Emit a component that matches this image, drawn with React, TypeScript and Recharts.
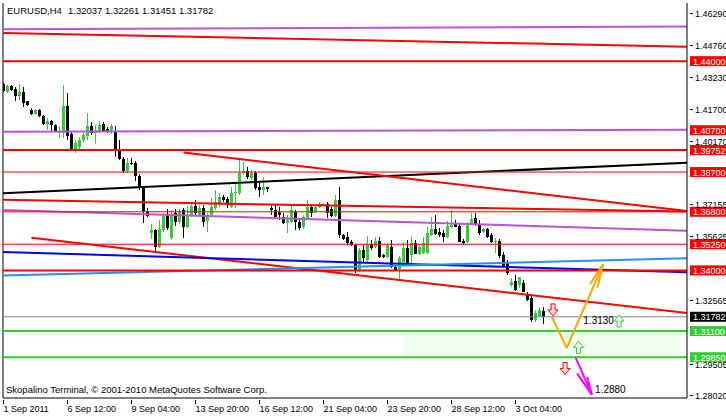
import React from 'react';
import {
  ComposedChart,
  Bar,
  XAxis,
  YAxis,
  ReferenceLine,
  ReferenceArea,
  ReferenceDot,
} from 'recharts';

// ---- candle data (EURUSD H4) ----
const opens = [
  1.4291, 1.4253, 1.4280, 1.4269, 1.4232, 1.4253, 1.4208, 1.4165, 1.4148, 1.4165,
  1.4137, 1.4100, 1.4116, 1.4097, 1.4057, 1.4057, 1.4186, 1.4052, 1.3980, 1.3990,
  1.4023, 1.4043, 1.4090, 1.4057, 1.4066, 1.4100, 1.4076, 1.4071, 1.4066, 1.3976,
  1.3933, 1.3876, 1.3914, 1.3914, 1.3852, 1.3794, 1.3684, 1.3580, 1.3593, 1.3513,
  1.3593, 1.3665, 1.3555, 1.3674, 1.3633, 1.3689, 1.3609, 1.3665, 1.3708, 1.3665,
  1.3697, 1.3636, 1.3665, 1.3698, 1.3713, 1.3752, 1.3741, 1.3705, 1.3769, 1.3769,
  1.3864, 1.3877, 1.3840, 1.3864, 1.3797, 1.3784, 1.3799, 1.3698, 1.3689, 1.3679,
  1.3657, 1.3628, 1.3633, 1.3681, 1.3633, 1.3606, 1.3649, 1.3705, 1.3681, 1.3705,
  1.3713, 1.3718, 1.3692, 1.3660, 1.3737, 1.3569, 1.3558, 1.3537, 1.3522, 1.3402,
  1.3498, 1.3450, 1.3526, 1.3513, 1.3542, 1.3474, 1.3466, 1.3513, 1.3416, 1.3405,
  1.3426, 1.3506, 1.3474, 1.3533, 1.3480, 1.3485, 1.3485, 1.3569, 1.3597, 1.3585,
  1.3577, 1.3558, 1.3606, 1.3622, 1.3612, 1.3542, 1.3537, 1.3622, 1.3649, 1.3617,
  1.3585, 1.3597, 1.3569, 1.3536, 1.3542, 1.3474, 1.3442, 1.3330, 1.3349, 1.3330,
  1.3338, 1.3283, 1.3267, 1.3163, 1.3182, 1.32037,
];
const highs = [
  1.4296, 1.4286, 1.4288, 1.4277, 1.4291, 1.4275, 1.4211, 1.4176, 1.4173, 1.4172,
  1.4143, 1.4129, 1.4119, 1.4100, 1.4090, 1.4288, 1.4248, 1.4062, 1.4023, 1.4038,
  1.4057, 1.4152, 1.4109, 1.4095, 1.4114, 1.4109, 1.4086, 1.4100, 1.4090, 1.4023,
  1.3942, 1.3938, 1.3938, 1.3923, 1.3861, 1.3804, 1.3698, 1.3622, 1.3598, 1.3641,
  1.3674, 1.3694, 1.3689, 1.3694, 1.3694, 1.3698, 1.3708, 1.3722, 1.3737, 1.3713,
  1.3713, 1.3674, 1.3746, 1.3784, 1.3770, 1.3761, 1.3751, 1.3799, 1.3824, 1.3931,
  1.3916, 1.3896, 1.3880, 1.3877, 1.3824, 1.3847, 1.3800, 1.3708, 1.3713, 1.3705,
  1.3676, 1.3665, 1.3718, 1.3689, 1.3649, 1.3665, 1.3737, 1.3718, 1.3713, 1.3727,
  1.3722, 1.3727, 1.3705, 1.3761, 1.3800, 1.3574, 1.3585, 1.3545, 1.3526, 1.3506,
  1.3522, 1.3565, 1.3545, 1.3561, 1.3558, 1.3479, 1.3531, 1.3545, 1.3425, 1.3469,
  1.3537, 1.3545, 1.3565, 1.3545, 1.3528, 1.3561, 1.3606, 1.3657, 1.3665, 1.3601,
  1.3593, 1.3638, 1.3689, 1.3641, 1.3622, 1.3549, 1.3633, 1.3673, 1.3673, 1.3641,
  1.3603, 1.3603, 1.3577, 1.3554, 1.3549, 1.3490, 1.3450, 1.3362, 1.3378, 1.3370,
  1.3354, 1.3298, 1.3283, 1.3211, 1.3226, 1.32261,
];
const lows = [
  1.4253, 1.4248, 1.4259, 1.4210, 1.4216, 1.4180, 1.4185, 1.4143, 1.4145, 1.4132,
  1.4097, 1.4073, 1.4064, 1.4065, 1.4033, 1.4033, 1.4023, 1.3971, 1.3961, 1.3976,
  1.4014, 1.4023, 1.4047, 1.4004, 1.4052, 1.4062, 1.4057, 1.4052, 1.3942, 1.3928,
  1.3866, 1.3866, 1.3905, 1.3828, 1.3784, 1.3627, 1.3655, 1.3550, 1.3493, 1.3507,
  1.3584, 1.3593, 1.3545, 1.3612, 1.3622, 1.3554, 1.3603, 1.3655, 1.3665, 1.3655,
  1.3608, 1.3584, 1.3655, 1.3689, 1.3703, 1.3727, 1.3698, 1.3698, 1.3697, 1.3761,
  1.3856, 1.3837, 1.3832, 1.3784, 1.3752, 1.3761, 1.3776, 1.3665, 1.3651, 1.3641,
  1.3622, 1.3580, 1.3627, 1.3593, 1.3593, 1.3598, 1.3641, 1.3655, 1.3675, 1.3698,
  1.3708, 1.3651, 1.3655, 1.3655, 1.3554, 1.3545, 1.3522, 1.3517, 1.3389, 1.3393,
  1.3442, 1.3440, 1.3498, 1.3507, 1.3459, 1.3459, 1.3459, 1.3411, 1.3397, 1.3354,
  1.3421, 1.3426, 1.3431, 1.3479, 1.3474, 1.3479, 1.3479, 1.3565, 1.3569, 1.3561,
  1.3537, 1.3555, 1.3603, 1.3606, 1.3536, 1.3522, 1.3531, 1.3617, 1.3612, 1.3569,
  1.3580, 1.3555, 1.3531, 1.3482, 1.3459, 1.3411, 1.3378, 1.3322, 1.3302, 1.3314,
  1.3297, 1.3254, 1.3154, 1.3155, 1.3177, 1.31451,
];
const closes = [
  1.4258, 1.4280, 1.4264, 1.4232, 1.4253, 1.4200, 1.4192, 1.4149, 1.4168, 1.4137,
  1.4100, 1.4116, 1.4094, 1.4068, 1.4066, 1.4185, 1.4041, 1.3976, 1.4009, 1.4023,
  1.4047, 1.4090, 1.4057, 1.4071, 1.4095, 1.4066, 1.4066, 1.4090, 1.3980, 1.3933,
  1.3876, 1.3914, 1.3909, 1.3852, 1.3794, 1.3684, 1.3660, 1.3593, 1.3513, 1.3597,
  1.3660, 1.3603, 1.3665, 1.3633, 1.3681, 1.3609, 1.3665, 1.3708, 1.3674, 1.3698,
  1.3633, 1.3665, 1.3705, 1.3728, 1.3752, 1.3737, 1.3713, 1.3772, 1.3776, 1.3864,
  1.3877, 1.3845, 1.3864, 1.3793, 1.3784, 1.3799, 1.3790, 1.3689, 1.3657, 1.3665,
  1.3628, 1.3641, 1.3689, 1.3633, 1.3601, 1.3657, 1.3702, 1.3673, 1.3705, 1.3718,
  1.3718, 1.3673, 1.3660, 1.3737, 1.3569, 1.3548, 1.3530, 1.3522, 1.3402, 1.3498,
  1.3458, 1.3526, 1.3506, 1.3542, 1.3466, 1.3463, 1.3522, 1.3414, 1.3402, 1.3459,
  1.3506, 1.3434, 1.3533, 1.3480, 1.3513, 1.3533, 1.3577, 1.3597, 1.3574, 1.3569,
  1.3558, 1.3612, 1.3617, 1.3609, 1.3537, 1.3533, 1.3617, 1.3644, 1.3617, 1.3577,
  1.3597, 1.3561, 1.3537, 1.3542, 1.3469, 1.3417, 1.3386, 1.3346, 1.3306, 1.3368,
  1.3298, 1.3259, 1.3163, 1.3195, 1.3211, 1.31782,
];

// ---- axes ----
const X_MIN = -0.125;
const X_MAX = 170.875;
const Y_MIN = 1.279;
const Y_MAX = 1.4678;
const timeTicks = [0, 16, 32, 48, 64, 80, 96, 112, 128];
const timeLabels = [
  '1 Sep 2011', '6 Sep 12:00', '9 Sep 04:00', '13 Sep 20:00', '16 Sep 12:00',
  '21 Sep 04:00', '23 Sep 20:00', '28 Sep 12:00', '3 Oct 04:00',
];
const priceTicks = [1.4629, 1.4476, 1.4323, 1.417, 1.4017, 1.37155, 1.35625, 1.32565, 1.29505, 1.2802];
const priceTickLabels = ['1.46290', '1.44760', '1.43230', '1.41700', '1.40170', '1.37155', '1.35625', '1.32565', '1.29505', '1.28020'];

// ---- horizontal levels ----
const levelPrices = [1.44, 1.40700, 1.39752, 1.387, 1.368, 1.3525, 1.34, 1.31782, 1.311, 1.2985];
const levelLabels = ['1.44000', '1.40700', '1.39752', '1.38700', '1.36800', '1.35250', '1.34000', '1.31782', '1.31100', '1.29850'];
const levelColors = ['#FF0000', 'none', '#FF0000', '#FF0000', '#FF0000', '#FF0000', '#FF0000', '#778899', '#32CD32', '#32CD32'];
const levelWidths = [2, 0, 2, 1, 1, 1, 2, 1, 2, 2];
const levelBoxColors = ['#FF0000', '#FF0000', '#FF0000', '#FF0000', '#FF0000', '#FF0000', '#FF0000', '#000000', '#32CD32', '#32CD32'];

// ---- trend lines: [x1, y1, x2, y2] ----
const trendStarts = [X_MIN, X_MIN, X_MIN, X_MIN, 45, X_MIN, X_MIN, 7, X_MIN, X_MIN];
const trendStartPrices = [1.4553, 1.4535, 1.4063, 1.3769, 1.3963, 1.3737, 1.3689, 1.3556, 1.3488, 1.3375];
const trendEndPrices = [1.4566, 1.4469, 1.4072, 1.3915, 1.3684, 1.3681, 1.3590, 1.3196, 1.3391, 1.3458];
const trendColors = ['#BA55D3', '#FF0000', '#BA55D3', '#000000', '#FF0000', '#FF0000', '#BA55D3', '#FF0000', '#0000FF', '#1E90FF'];

// ---- forecast drawings ----
const orangeX = [137, 140.8, 149.9];
const orangeY = [1.3182, 1.3029, 1.3429];
const orangeBarbX = [146.6, 148.5];
const orangeBarbY = [1.3334, 1.3317];
const magentaX = [143, 147.1];
const magentaY = [1.2985, 1.2805];
const magentaBarbX = [143.4, 145.9];
const magentaBarbY = [1.2908, 1.2892];
const zoneX = [100, 169];
const zoneY = [1.2985, 1.311];

const noteX = [144.95, 147.9];
const noteY = [1.316, 1.283];
const noteText = ['1.3130', '1.2880'];

const arrowX = [137.4, 153.9, 143.75, 140.4];
const arrowY = [1.3211, 1.3158, 1.3032, 1.2931];
const arrowDir = ['down', 'up', 'up', 'down'];

const data = opens.map((o, i) => ({
  t: i,
  open: o,
  high: highs[i],
  low: lows[i],
  close: closes[i],
  range: [lows[i], highs[i]],
}));

const FONT = '"Liberation Sans", Arial, sans-serif';

const Candle = (props: any) => {
  const { x, y, width, height, payload } = props;
  if (!payload) return null;
  const top = Math.min(y, y + height);
  const h = Math.abs(height);
  const { open, high, low, close } = payload;
  const py = (p: number) => top + ((high - p) / (high - low)) * h;
  const cx = x + width / 2;
  const up = close >= open;
  const color = up ? '#32CD32' : '#000000';
  const bTop = py(Math.max(open, close));
  const bBot = py(Math.min(open, close));
  return (
    <g shapeRendering="crispEdges">
      <line x1={cx} x2={cx} y1={top} y2={top + h} stroke={color} strokeWidth={1} />
      <rect x={cx - 1.5} y={bTop} width={3} height={Math.max(1, bBot - bTop)} fill={color} />
    </g>
  );
};

const PriceTick = (props: any) => {
  const { x, y, index } = props;
  return (
    <g>
      <line x1={x + 1} x2={x + 4} y1={y} y2={y} stroke="#000" shapeRendering="crispEdges" />
      <text x={x + 6} y={y + 3.5} fontSize={9} fontFamily={FONT} fill="#000">
        {priceTickLabels[index]}
      </text>
    </g>
  );
};

const TimeTick = (props: any) => {
  const { x, y, index } = props;
  return (
    <g>
      <line x1={x} x2={x} y1={y} y2={y + 4} stroke="#000" shapeRendering="crispEdges" />
      <text x={x} y={y + 12} fontSize={9} fontFamily={FONT} fill="#000">
        {timeLabels[index]}
      </text>
    </g>
  );
};

const BoxLabel = (props: any) => {
  const { viewBox, text, bg } = props;
  if (!viewBox) return null;
  const xx = viewBox.x + viewBox.width;
  const yy = viewBox.y;
  return (
    <g>
      <rect x={xx + 3} y={yy - 5} width={40} height={10} fill={bg} />
      <text x={xx + 6} y={yy + 3.5} fontSize={9} fontFamily={FONT} fill="#fff">
        {text}
      </text>
    </g>
  );
};

const arrowShape = (dir: string) => (props: any) => {
  const { cx, cy } = props;
  const s = dir === 'down' ? 1 : -1;
  const pts = [
    [-2, -6], [2, -6], [2, 0], [5, 0], [0, 6], [-5, 0], [-2, 0],
  ].map(([px, py]) => `${cx + px},${cy + s * py}`).join(' ');
  const stroke = dir === 'down' ? '#FF0000' : '#32CD32';
  const fill = dir === 'down' ? '#FFE4E1' : '#F0FFF0';
  return <polygon points={pts} fill={fill} stroke={stroke} strokeWidth={1} />;
};

const noteShape = (text: string) => (props: any) => {
  const { cx, cy } = props;
  return (
    <text x={cx} y={cy + 3.5} fontSize={10} fontFamily={FONT} fill="#000">
      {text}
    </text>
  );
};

export default function App() {
  return (
    <div style={{ position: 'absolute', left: 0, top: 0, width: 726, height: 416, background: '#fff' }}>
      <ComposedChart
        width={726}
        height={416}
        data={data}
        margin={{ top: 3, right: 0, bottom: 0, left: 3 }}
      >
        <XAxis
          dataKey="t"
          type="number"
          domain={[X_MIN, X_MAX]}
          allowDataOverflow
          ticks={timeTicks}
          interval={0}
          height={18}
          axisLine={{ stroke: '#000' }}
          tickLine={false}
          tickSize={0}
          tick={<TimeTick />}
        />
        <YAxis
          orientation="right"
          type="number"
          domain={[Y_MIN, Y_MAX]}
          allowDataOverflow
          ticks={priceTicks}
          interval={0}
          width={39}
          axisLine={{ stroke: '#000' }}
          tickLine={false}
          tickSize={0}
          tick={<PriceTick />}
        />
        <ReferenceLine x={X_MIN} stroke="#000" strokeWidth={1} />
        <ReferenceArea
          x1={zoneX[0]}
          x2={zoneX[1]}
          y1={zoneY[0]}
          y2={zoneY[1]}
          fill="#F0FFF0"
          fillOpacity={1}
          stroke="none"
        />
        <Bar dataKey="range" barSize={3} shape={Candle} isAnimationActive={false} />
        {trendStarts.map((x1, i) => (
          <ReferenceLine
            key={'tr' + i}
            segment={[
              { x: x1, y: trendStartPrices[i] },
              { x: X_MAX, y: trendEndPrices[i] },
            ]}
            stroke={trendColors[i]}
            strokeWidth={2}
          />
        ))}
        {levelPrices.map((p, i) => (
          <ReferenceLine
            key={'lv' + i}
            y={p}
            stroke={levelColors[i]}
            strokeWidth={levelWidths[i]}
            label={<BoxLabel text={levelLabels[i]} bg={levelBoxColors[i]} />}
          />
        ))}
        <ReferenceLine
          segment={[{ x: orangeX[0], y: orangeY[0] }, { x: orangeX[1], y: orangeY[1] }]}
          stroke="#FFA500"
          strokeWidth={2}
        />
        <ReferenceLine
          segment={[{ x: orangeX[1], y: orangeY[1] }, { x: orangeX[2], y: orangeY[2] }]}
          stroke="#FFA500"
          strokeWidth={2}
        />
        {orangeBarbX.map((bx, i) => (
          <ReferenceLine
            key={'ob' + i}
            segment={[{ x: bx, y: orangeBarbY[i] }, { x: orangeX[2], y: orangeY[2] }]}
            stroke="#FFA500"
            strokeWidth={2}
          />
        ))}
        <ReferenceLine
          segment={[{ x: magentaX[0], y: magentaY[0] }, { x: magentaX[1], y: magentaY[1] }]}
          stroke="#FF00FF"
          strokeWidth={2}
        />
        {magentaBarbX.map((bx, i) => (
          <ReferenceLine
            key={'mb' + i}
            segment={[{ x: bx, y: magentaBarbY[i] }, { x: magentaX[1], y: magentaY[1] }]}
            stroke="#FF00FF"
            strokeWidth={2}
          />
        ))}
        {noteX.map((nx, i) => (
          <ReferenceDot key={'nt' + i} x={nx} y={noteY[i]} r={1} shape={noteShape(noteText[i])} />
        ))}
        {arrowX.map((ax, i) => (
          <ReferenceDot key={'ar' + i} x={ax} y={arrowY[i]} r={1} shape={arrowShape(arrowDir[i])} />
        ))}
      </ComposedChart>
      <svg
        width={726}
        height={416}
        style={{ position: 'absolute', left: 0, top: 0, pointerEvents: 'none' }}
      >
        <text x={7} y={14} fontSize={9.5} fontFamily={FONT} fill="#000">EURUSD,H4</text>
        <text x={68} y={14} fontSize={9.5} fontFamily={FONT} fill="#000">1.32037 1.32261 1.31451 1.31782</text>
        <text x={6} y={392.5} fontSize={9.5} fontFamily={FONT} fill="#000">
          Skopalino Terminal, © 2001-2010 MetaQuotes Software Corp.
        </text>
      </svg>
    </div>
  );
}
